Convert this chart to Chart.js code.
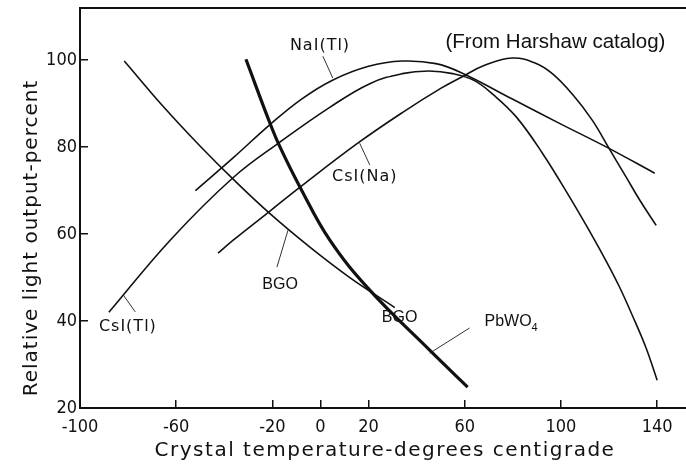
<!DOCTYPE html>
<html>
<head>
<meta charset="utf-8">
<script src="https://cdn.jsdelivr.net/npm/chart.js@4.4.1/dist/chart.umd.min.js"></script>
<style>
  html, body { margin: 0; padding: 0; background: #fff; }
  #wrap { width: 686px; height: 465px; }
</style>
</head>
<body>
<div id="wrap"><canvas id="grafica"></canvas></div>
<script>
// ticks
const xTicks = [-100, -60, -20, 0, 20, 60, 100, 140];
const yTicks = [20, 40, 60, 80, 100];

// NaI(Tl)
const naiX = [-52, -36, -21, -8, 5, 20, 34, 48, 59, 80, 100, 119, 139];
const naiY = [70, 77.7, 85.2, 91, 95.4, 98.6, 99.8, 99.2, 97, 91, 85.3, 80, 74];

// CsI(Tl)
const csitlX = [-88, -62.5, -36.5, -17, 4, 20.5, 34, 45, 55, 64, 72, 81.5, 92.3, 103.5, 113, 118.8, 124.2, 129.6, 135.4, 140];
const csitlY = [42, 58.6, 72.9, 81.1, 89.2, 94.6, 96.9, 97.5, 96.9, 95.3, 92, 86.9, 78.6, 68.6, 59.6, 53.8, 48, 41.4, 33.8, 26.4];

// CsI(Na)
const csinaX = [-42.6, -36.3, -21, -8.5, 15.5, 34.2, 50, 59, 68, 79.8, 89, 96.4, 104.7, 113, 120, 127, 133, 139.6];
const csinaY = [55.6, 58.6, 65.3, 70.8, 80.9, 88, 93.5, 96.2, 98.8, 100.5, 99.4, 96.9, 92.2, 86.2, 79.7, 73.2, 67.6, 62];

// BGO
const bgoX = [-81.6, -65, -50, -35.9, -21, -4.4, 12.2, 30.9];
const bgoY = [99.8, 89.1, 80.2, 72.4, 64.7, 57, 50, 43.1];

// PbWO4
const pbwoX = [-31, -21, -16.8, -8.5, 3.9, 20.5, 45.4, 61.2];
const pbwoY = [100.2, 85.5, 80, 70.8, 58.6, 47.1, 33.3, 24.8];

const tituloX = "Crystal temperature-degrees centigrade";
const tituloY = "Relative light output-percent";

const zip = (xs, ys) => xs.map((v, i) => ({ x: v, y: ys[i] }));

// textos sobre la grafica (coordenadas en unidades de datos)
const notas = [
  { text: "NaI(Tl)", x: -0.2, y: 103.4, font: '16px "DejaVu Sans"', ls: "1px" },
  { text: "(From Harshaw catalog)", x: 97.7, y: 104.1, font: '20.5px "Liberation Sans"' },
  { text: "CsI(Na)", x: 18.4, y: 73.1, font: '16px "DejaVu Sans"', ls: "1px" },
  { text: "CsI(Tl)", x: -80.1, y: 38.6, font: '16px "DejaVu Sans"', ls: "1px" },
  { text: "BGO", x: -16.8, y: 48.3, font: '16px "Liberation Sans"' },
  { text: "BGO", x: 32.9, y: 40.7, font: '16px "Liberation Sans"' },
  { text: "PbWO", sub: "4", x: 68.2, y: 39.8, font: '16px "Liberation Sans"', align: "left" }
];

const guias = [
  [1.0, 100.9, 5.1, 95.9],
  [16.3, 80.9, 20.5, 75.9],
  [-82, 46, -77, 42.1],
  [-18.1, 52.4, -13.5, 60.9],
  [62, 38.4, 45.4, 32.6]
];

const curva = (data, w) => ({
  data,
  showLine: true,
  borderColor: "#111",
  borderWidth: w,
  pointRadius: 0,
  tension: 0.4,
  fill: false
});

const datasets = [
  curva(zip(naiX, naiY), 1.6),
  curva(zip(csitlX, csitlY), 1.6),
  curva(zip(csinaX, csinaY), 1.6),
  curva(zip(bgoX, bgoY), 1.6),
  curva(zip(pbwoX, pbwoY), 3.2)
];
guias.forEach(g => {
  const d = curva([{ x: g[0], y: g[1] }, { x: g[2], y: g[3] }], 1);
  d.tension = 0;
  d.borderColor = "#333";
  datasets.push(d);
});

const etiquetas = {
  id: "etiquetas",
  afterDraw(chart) {
    const { ctx, chartArea } = chart;
    const sx = chart.scales.x, sy = chart.scales.y;
    ctx.save();
    ctx.fillStyle = "#111";
    ctx.textBaseline = "middle";
    notas.forEach(n => {
      ctx.font = n.font;
      ctx.letterSpacing = n.ls || "0px";
      ctx.textAlign = n.align || "center";
      const px = sx.getPixelForValue(n.x);
      const py = sy.getPixelForValue(n.y);
      ctx.fillText(n.text, px, py);
      if (n.sub) {
        const w = ctx.measureText(n.text).width;
        ctx.font = '11px "Liberation Sans"';
        ctx.textAlign = "left";
        ctx.fillText(n.sub, px + w, py + 6);
      }
    });

    ctx.font = '20px "DejaVu Sans"';
    ctx.textAlign = "center";
    ctx.letterSpacing = "1.5px";
    ctx.fillText(tituloX, (chartArea.left + chartArea.right) / 2 + 2, chartArea.bottom + 43);

    ctx.letterSpacing = "1px";
    ctx.translate(32, chartArea.bottom - 170);
    ctx.rotate(-Math.PI / 2);
    ctx.fillText(tituloY, 0, 0);
    ctx.restore();
  }
};

const sinPadding = s => {
  s.paddingTop = 0; s.paddingBottom = 0; s.paddingLeft = 0; s.paddingRight = 0;
};

const fuenteTicks = { family: "'DejaVu Sans Condensed', 'DejaVu Sans', sans-serif", size: 18 };

new Chart(document.getElementById("grafica"), {
  type: "scatter",
  data: { datasets },
  options: {
    responsive: true,
    maintainAspectRatio: false,
    animation: false,
    layout: { padding: 0 },
    plugins: { legend: { display: false }, tooltip: { enabled: false } },
    scales: {
      x: {
        type: "linear",
        position: "bottom",
        min: -100,
        max: 152,
        afterBuildTicks: s => { s.ticks = xTicks.map(v => ({ value: v })); },
        afterFit: s => { s.height = 57; sinPadding(s); },
        ticks: { color: "#111", font: fuenteTicks, padding: 17, maxRotation: 0, autoSkip: false },
        grid: { drawOnChartArea: false, tickLength: -8, color: "#111", lineWidth: 1.5 },
        border: { color: "#111", width: 2 }
      },
      xTop: {
        type: "linear",
        position: "top",
        min: 0,
        max: 1,
        afterFit: s => { s.height = 8; sinPadding(s); },
        ticks: { display: false },
        grid: { display: false, drawTicks: false },
        border: { color: "#111", width: 2 }
      },
      y: {
        type: "linear",
        min: 20,
        max: 112,
        afterBuildTicks: s => { s.ticks = yTicks.map(v => ({ value: v })); },
        afterFit: s => { s.width = 80; sinPadding(s); },
        ticks: { color: "#111", font: fuenteTicks, padding: 11 },
        grid: { drawOnChartArea: false, tickLength: -8, color: "#111", lineWidth: 1.5 },
        border: { color: "#111", width: 2 }
      }
    }
  },
  plugins: [etiquetas]
});
</script>
</body>
</html>
